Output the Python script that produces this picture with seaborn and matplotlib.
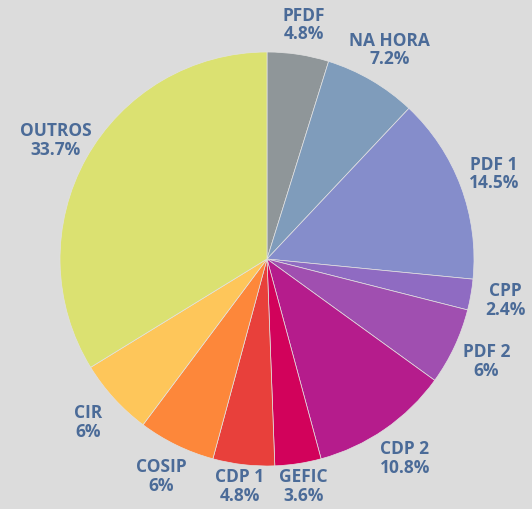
import numpy as np
import seaborn as sns
import matplotlib.pyplot as plt

# slices, clockwise from 12 o'clock
labels = ['PFDF', 'NA HORA', 'PDF 1', 'CPP', 'PDF 2', 'CDP 2',
          'GEFIC', 'CDP 1', 'COSIP', 'CIR', 'OUTROS']
shares = [4.8, 7.2, 14.5, 2.4, 6, 10.8, 3.6, 4.8, 6, 6, 33.7]
colors = ['#8f9699', '#7f9cbb', '#858dcb', '#8f6bc2', '#a04fb0', '#b51c8c',
          '#d2025b', '#e8403b', '#fd873a', '#fec65a', '#dbe171']

bg = '#dcdcdc'
text_color = '#4b6b98'

sns.set_style('white')
plt.rcParams['font.family'] = ['Open Sans', 'DejaVu Sans']

fig = plt.figure(figsize=(5.32, 5.09), dpi=100, facecolor=bg)
ax = fig.add_axes([60 / 532, 43 / 509, 414 / 532, 414 / 509])
ax.set_facecolor(bg)

label_txt = [f'{l}\n{s:g}%' for l, s in zip(labels, shares)]
wedges, texts = ax.pie(shares, labels=label_txt, colors=colors, startangle=90,
                       counterclock=False, labeldistance=1.17,
                       wedgeprops=dict(linewidth=0.5, edgecolor='#e2e2e2'),
                       textprops=dict(color=text_color, fontsize=12.5,
                                      fontweight='bold', ha='center',
                                      va='center', linespacing=1.05))
for t in texts:
    t.set_horizontalalignment('center')
    x, y = t.get_position()
    # keep labels inside the canvas
    t.set_position((x, float(np.clip(y, -1.10, 1.13))))

ax.set_xlim(-1, 1)
ax.set_ylim(-1, 1)
ax.set_aspect('equal')
ax.axis('off')

fig.savefig('out.png', dpi=100, facecolor=bg)
